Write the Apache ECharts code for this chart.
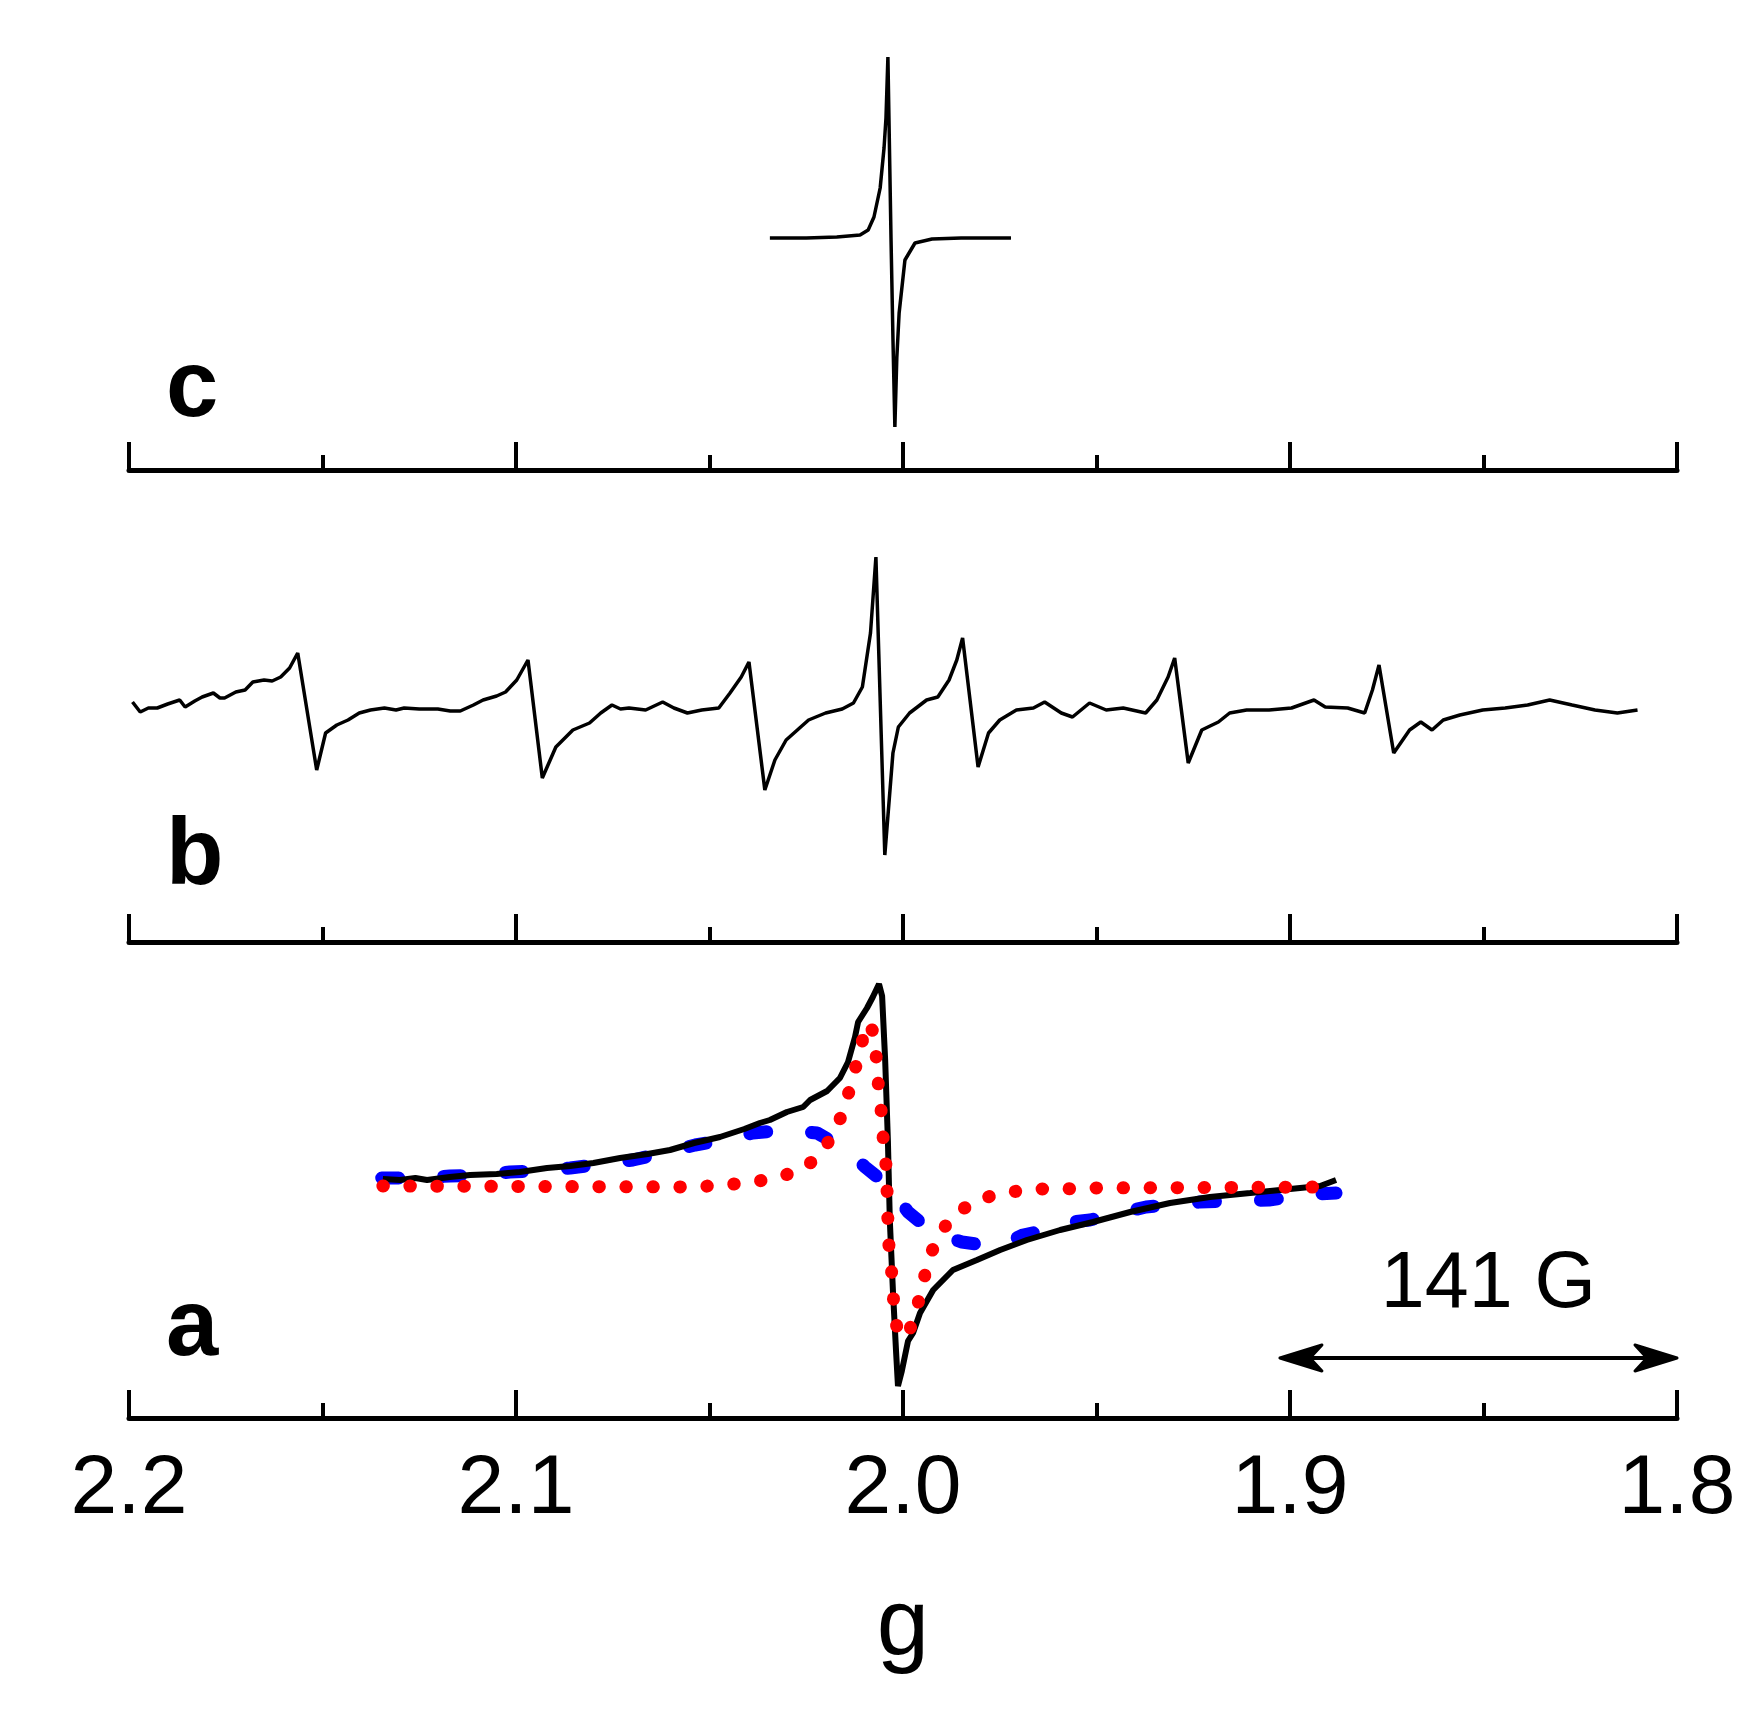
<!DOCTYPE html>
<html>
<head>
<meta charset="utf-8">
<script src="https://cdn.jsdelivr.net/npm/echarts@6/dist/echarts.min.js"></script>
<style>
  html, body { margin: 0; padding: 0; background: #fff; }
  #chart { width: 1761px; height: 1712px; }
</style>
</head>
<body>
<div id="chart"></div>
<script>
/* ------------------------------------------------------------------ */
/*  EPR spectra a, b, c on a shared g axis    */
/* ------------------------------------------------------------------ */

const gTicks = [2.2, 2.1, 2.0, 1.9, 1.8];
const panelNames = ['c', 'b', 'a'];

// c : single narrow line, [g, intensity a.u.]
const traceC = [
  [2.0344, 0], [2.0250, 0], [2.0171, 1], [2.0111, 3], [2.0090, 8], [2.0075, 21],
  [2.0059, 50], [2.0049, 90], [2.0044, 120], [2.0039, 181], [2.0031, 0],
  [2.0026, -100], [2.0021, -189], [2.0016, -120], [2.0010, -75], [1.9995, -22],
  [1.9969, -5], [1.9925, -1], [1.9850, 0], [1.9721, 0]
];

// b : hyperfine pattern
const traceB = [
  [2.1991, 8], [2.1971, -2], [2.1950, 2], [2.1927, 2], [2.1900, 6], [2.1869, 10],
  [2.1855, 3], [2.1830, 9], [2.1811, 13], [2.1782, 17], [2.1765, 12], [2.1753, 12],
  [2.1724, 18], [2.1700, 20], [2.1680, 28], [2.1651, 30], [2.1630, 29], [2.1608, 33],
  [2.1585, 42], [2.1564, 57], [2.1515, -60], [2.1492, -23], [2.1463, -15],
  [2.1434, -10], [2.1405, -3], [2.1376, 0], [2.1340, 2], [2.1310, 0], [2.1289, 2],
  [2.1250, 1], [2.1202, 1], [2.1170, -1], [2.1144, -1], [2.1110, 5], [2.1085, 10],
  [2.1050, 14], [2.1027, 18], [2.0998, 30], [2.0969, 50], [2.0932, -68],
  [2.0897, -37], [2.0853, -20], [2.0810, -13], [2.0781, -3], [2.0752, 5],
  [2.0730, 1], [2.0708, 2], [2.0665, 0], [2.0621, 8], [2.0592, 2], [2.0557, -3],
  [2.0520, 0], [2.0476, 2], [2.0447, 17], [2.0418, 33], [2.0398, 48], [2.0357, -80],
  [2.0331, -50], [2.0302, -30], [2.0273, -20], [2.0244, -10], [2.0200, -3],
  [2.0157, 1], [2.0128, 7], [2.0105, 23], [2.0084, 77], [2.0070, 153],
  [2.0047, -145], [2.0026, -43], [2.0012, -17], [1.9983, -3], [1.9939, 10],
  [1.9910, 13], [1.9881, 30], [1.9861, 50], [1.9846, 72], [1.9806, -57],
  [1.9779, -23], [1.9750, -10], [1.9707, 0], [1.9663, 2], [1.9634, 8], [1.9591, -3],
  [1.9562, -7], [1.9518, 7], [1.9475, 0], [1.9431, 2], [1.9373, -3], [1.9344, 10],
  [1.9315, 33], [1.9298, 52], [1.9263, -53], [1.9228, -20], [1.9185, -12],
  [1.9156, -3], [1.9112, 0], [1.9054, 0], [1.8996, 2], [1.8938, 10], [1.8909, 3],
  [1.8851, 2], [1.8807, -3], [1.8787, 20], [1.8770, 45], [1.8732, -43],
  [1.8691, -20], [1.8662, -12], [1.8633, -20], [1.8604, -10], [1.8561, -5],
  [1.8502, 0], [1.8444, 2], [1.8386, 5], [1.8329, 10], [1.8271, 5], [1.8212, 0],
  [1.8154, -3], [1.8102, 0]
];

// a : experiment (black) and two simulations (blue dashed, red dotted)
const traceAExp = [
  [2.1344, 2], [2.1300, 1], [2.1260, 3], [2.1230, 1], [2.1171, 4], [2.1119, 6],
  [2.1050, 7], [2.0990, 9], [2.0920, 13], [2.0860, 15], [2.0800, 18], [2.0731, 23],
  [2.0660, 27], [2.0602, 31], [2.0540, 38], [2.0473, 44], [2.0410, 52], [2.0370, 58],
  [2.0344, 61], [2.0300, 69], [2.0258, 74], [2.0240, 81], [2.0196, 90], [2.0163, 103],
  [2.0142, 119], [2.0124, 144], [2.0116, 159], [2.0093, 173], [2.0078, 184],
  [2.0062, 197], [2.0054, 185], [2.0046, 120], [2.0039, 40], [2.0034, -40],
  [2.0026, -110], [2.0018, -170], [2.0013, -205], [2.0003, -190], [1.9987, -160],
  [1.9974, -152], [1.9956, -132], [1.9922, -109], [1.9871, -89], [1.9809, -79],
  [1.9749, -69], [1.9680, -59], [1.9594, -49], [1.9509, -41], [1.9413, -31],
  [1.9310, -22], [1.9207, -16], [1.9103, -12], [1.9000, -8], [1.8922, -5], [1.8881, 1]
];

const traceASimBroad = [
  [2.1347, 3], [2.1256, 3], [2.1171, 5], [2.1093, 6], [2.1016, 9], [2.0946, 10],
  [2.0860, 13], [2.0775, 17], [2.0698, 21], [2.0620, 28], [2.0537, 36], [2.0460, 41],
  [2.0388, 48], [2.0297, 51], [2.0222, 48], [2.0145, 31], [2.0098, 14], [2.0034, -6],
  [1.9987, -31], [1.9925, -51], [1.9848, -61], [1.9757, -66], [1.9690, -54],
  [1.9628, -49], [1.9594, -42], [1.9517, -39], [1.9372, -26], [1.9233, -21],
  [1.9054, -19], [1.8938, -13], [1.8881, -12]
];

const traceASimNarrow = [
  [2.1344, -5], [2.0537, -6], [2.0468, -4], [2.0401, -2], [2.0331, 3], [2.0261, 11],
  [2.0212, 27], [2.0171, 53], [2.0147, 79], [2.0127, 107], [2.0109, 134], [2.0093, 158],
  [2.0078, 150], [2.0070, 128], [2.0065, 101], [2.0057, 73], [2.0052, 46], [2.0044, 16],
  [2.0041, -11], [2.0039, -39], [2.0036, -67], [2.0028, -96], [2.0024, -122],
  [2.0015, -149], [2.0003, -156], [1.9987, -154], [1.9964, -127], [1.9948, -101],
  [1.9930, -74], [1.9899, -49], [1.9860, -31], [1.9793, -17], [1.9724, -11],
  [1.9651, -8], [1.9587, -8], [1.9517, -7], [1.8881, -6]
];

// scale bar: 141 G spans this g range
const scaleBar = { from: 1.9026, to: 1.8, level: -177, label: '141 G' };

const FONT = '"Liberation Sans", Arial, Helvetica, sans-serif';

const chart = echarts.init(document.getElementById('chart'), null, { renderer: 'canvas' });

// grid tops and intensity ranges per panel (c, b, a)
const panels = [
  { top: 0, yMin: -232, yMax: 238 },
  { top: 472, yMin: -232, yMax: 238 },
  { top: 948, yMin: -237, yMax: 233 }
];

const makeXAxis = (i) => ({
  type: 'value',
  gridIndex: i,
  min: gTicks[gTicks.length - 1],
  max: gTicks[0],
  interval: 0.1,
  inverse: true,
  axisLine: { show: true, onZero: false, lineStyle: { color: '#000', width: 5 } },
  axisTick: { show: true, inside: true, length: 28, lineStyle: { color: '#000', width: 4 } },
  minorTick: { show: true, splitNumber: 2, length: 15, lineStyle: { color: '#000', width: 4 } },
  splitLine: { show: false },
  minorSplitLine: { show: false },
  axisLabel: {
    show: i === 2,
    color: '#000',
    fontSize: 84,
    fontFamily: FONT,
    margin: 30,
    showMinLabel: true,
    showMaxLabel: true,
    formatter: v => v.toFixed(1)
  },
  name: i === 2 ? 'g' : '',
  nameLocation: 'middle',
  nameGap: 163,
  nameTextStyle: { color: '#000', fontSize: 94, fontFamily: FONT }
});

const lineSeries = (i, data, style, extra) => Object.assign({
  type: 'line',
  xAxisIndex: i,
  yAxisIndex: i,
  data: data,
  showSymbol: false,
  symbol: 'none',
  silent: true,
  lineStyle: style
}, extra || {});

chart.setOption({
  animation: false,
  backgroundColor: '#ffffff',
  grid: panels.map(p => ({
    left: 129, width: 1548, top: p.top, height: 470,
    containLabel: false, outerBoundsMode: 'none'
  })),
  xAxis: panels.map((p, i) => makeXAxis(i)),
  yAxis: panels.map((p, i) => ({
    type: 'value', gridIndex: i, min: p.yMin, max: p.yMax, show: false
  })),
  series: [
    lineSeries(0, traceC, { color: '#000', width: 3.5 }),
    lineSeries(1, traceB, { color: '#000', width: 3.5 }),
    lineSeries(2, traceASimBroad, { color: '#0000ff', width: 13, type: [17, 45], cap: 'round' }, { z: 2 }),
    lineSeries(2, traceAExp, { color: '#000', width: 6 }, { z: 3 }),
    lineSeries(2, traceASimNarrow, { color: '#ff0000', width: 13, type: [0.5, 26.5], cap: 'round' }, { z: 4 })
  ]
});

// annotations: panel letters and the field scale bar
const p1 = chart.convertToPixel({ gridIndex: 2 }, [scaleBar.from, scaleBar.level]);
const p2 = chart.convertToPixel({ gridIndex: 2 }, [scaleBar.to, scaleBar.level]);
const arrowHead = (tipX, y, dir) => ({
  type: 'polygon',
  shape: { points: [[tipX, y], [tipX + dir * 42, y - 13], [tipX + dir * 30, y], [tipX + dir * 42, y + 13]] },
  style: { fill: '#000', stroke: '#000', lineWidth: 3, lineJoin: 'round' }
});
const letterY = [390, 858, 1329];

chart.setOption({
  graphic: [
    ...panelNames.map((t, i) => ({
      type: 'text',
      style: {
        text: t, x: 166, y: letterY[i],
        font: 'bold 94px ' + FONT, fill: '#000',
        align: 'left', verticalAlign: 'middle',
        textAlign: 'left', textVerticalAlign: 'middle'
      }
    })),
    {
      type: 'line',
      shape: { x1: p1[0] + 20, y1: p1[1], x2: p2[0] - 20, y2: p2[1] },
      style: { stroke: '#000', lineWidth: 4 }
    },
    arrowHead(p1[0], p1[1], 1),
    arrowHead(p2[0], p2[1], -1),
    {
      type: 'text',
      style: {
        text: scaleBar.label, x: (p1[0] + p2[0]) / 2 + 10, y: 1285,
        font: '79px ' + FONT, fill: '#000',
        align: 'center', verticalAlign: 'middle',
        textAlign: 'center', textVerticalAlign: 'middle'
      }
    }
  ]
});
</script>
</body>
</html>
